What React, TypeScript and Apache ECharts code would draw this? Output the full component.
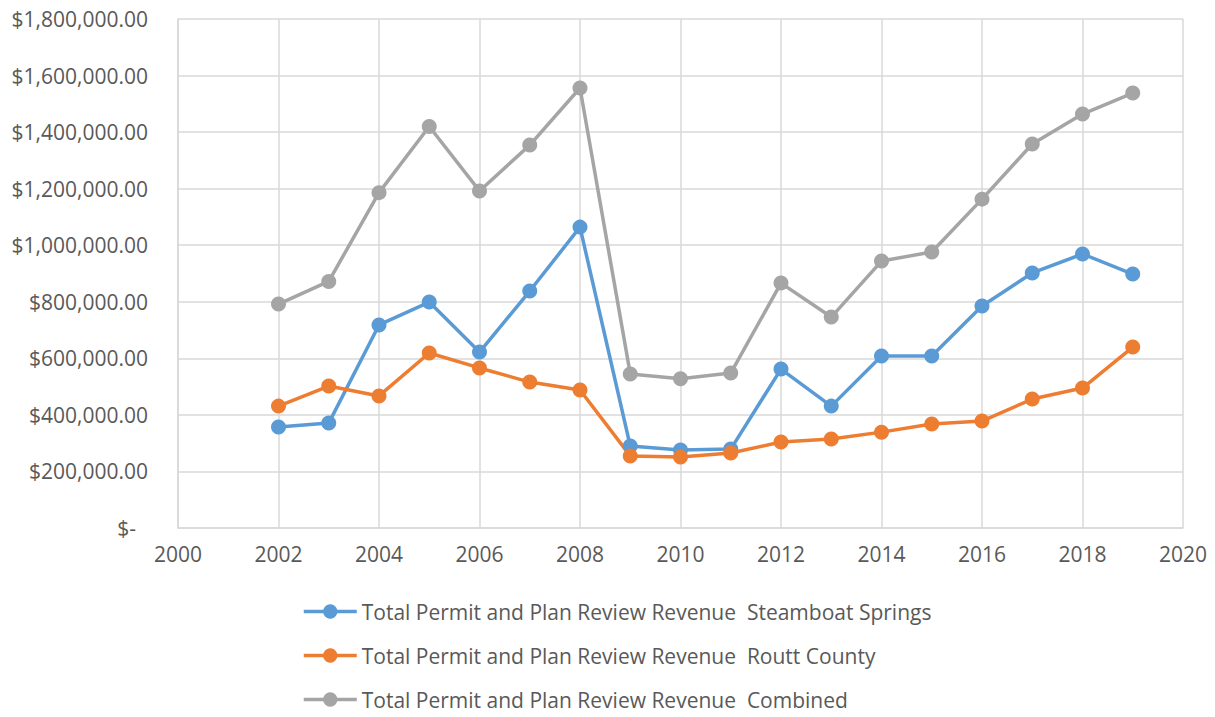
import React, { useEffect, useRef } from "react";
import * as echarts from "echarts";

const years = [2002, 2003, 2004, 2005, 2006, 2007, 2008, 2009, 2010, 2011, 2012, 2013, 2014, 2015, 2016, 2017, 2018, 2019];
const steamboat = [357000, 371000, 718000, 799000, 622000, 838000, 1064000, 290000, 276000, 279000, 562000, 431000, 608000, 608000, 785000, 902000, 969000, 898000];
const routt = [431000, 502000, 467000, 619000, 566000, 516000, 488000, 255000, 251000, 265000, 304000, 315000, 339000, 368000, 378000, 456000, 495000, 640000];
const combined = [792000, 872000, 1186000, 1420000, 1192000, 1354000, 1556000, 545000, 528000, 548000, 866000, 746000, 944000, 976000, 1163000, 1358000, 1464000, 1538000];
const seriesNames = [
  "Total Permit and Plan Review Revenue  Steamboat Springs",
  "Total Permit and Plan Review Revenue  Routt County",
  "Total Permit and Plan Review Revenue  Combined",
];
const colors = ["#5B9BD5", "#ED7D31", "#A5A5A5"];

const FONT = "'Open Sans', sans-serif";

export default function App() {
  const ref = useRef<HTMLDivElement>(null);
  useEffect(() => {
    if (!ref.current) return;
    const chart = echarts.init(ref.current, undefined, { renderer: "svg" });
    const mk = (vals: number[]) => years.map((y, i) => [y, vals[i]]);
    const datasets = [steamboat, routt, combined];
    chart.setOption({
      animation: false,
      textStyle: { fontFamily: FONT },
      grid: { left: 178, right: 32, top: 19, bottom: 189, containLabel: false },
      xAxis: {
        type: "value",
        min: 2000,
        max: 2020,
        interval: 2,
        axisLine: { show: true, lineStyle: { color: "#D9D9D9", width: 1.5 } },
        axisTick: { show: false },
        splitLine: { show: true, lineStyle: { color: "#D9D9D9", width: 1.5 } },
        axisLabel: { color: "#595959", fontSize: 21, fontFamily: FONT, margin: 15, formatter: (v: number) => String(v) },
      },
      yAxis: {
        type: "value",
        min: 0,
        max: 1800000,
        interval: 200000,
        axisLine: { show: true, lineStyle: { color: "#D9D9D9", width: 1.5 } },
        axisTick: { show: false },
        splitLine: { show: true, lineStyle: { color: "#D9D9D9", width: 1.5 } },
        axisLabel: {
          color: "#595959",
          fontSize: 21,
          fontFamily: FONT,
          margin: 30,
          formatter: (v: number) =>
            v === 0
              ? "{z|$-}"
              : "$" + v.toLocaleString("en-US", { minimumFractionDigits: 2, maximumFractionDigits: 2 }),
          rich: { z: { color: "#595959", fontSize: 21, fontFamily: FONT, padding: [0, 12, 0, 0] } },
        },
      },
      legend: {
        orient: "vertical",
        left: 297,
        top: 596,
        itemWidth: 53,
        itemHeight: 18,
        itemGap: 23,
        lineStyle: { width: 3.5 },
        textStyle: { color: "#595959", fontSize: 21, fontFamily: FONT },
        data: seriesNames,
      },
      series: datasets.map((d, i) => ({
        name: seriesNames[i],
        type: "line",
        data: mk(d),
        symbol: "circle",
        symbolSize: 15,
        color: colors[i],
        lineStyle: { width: 3.5, color: colors[i] },
        itemStyle: { color: colors[i] },
      })),
    });
    return () => chart.dispose();
  }, []);
  return <div ref={ref} style={{ width: 1215, height: 717, position: "absolute", left: 0, top: 0 }} />;
}
